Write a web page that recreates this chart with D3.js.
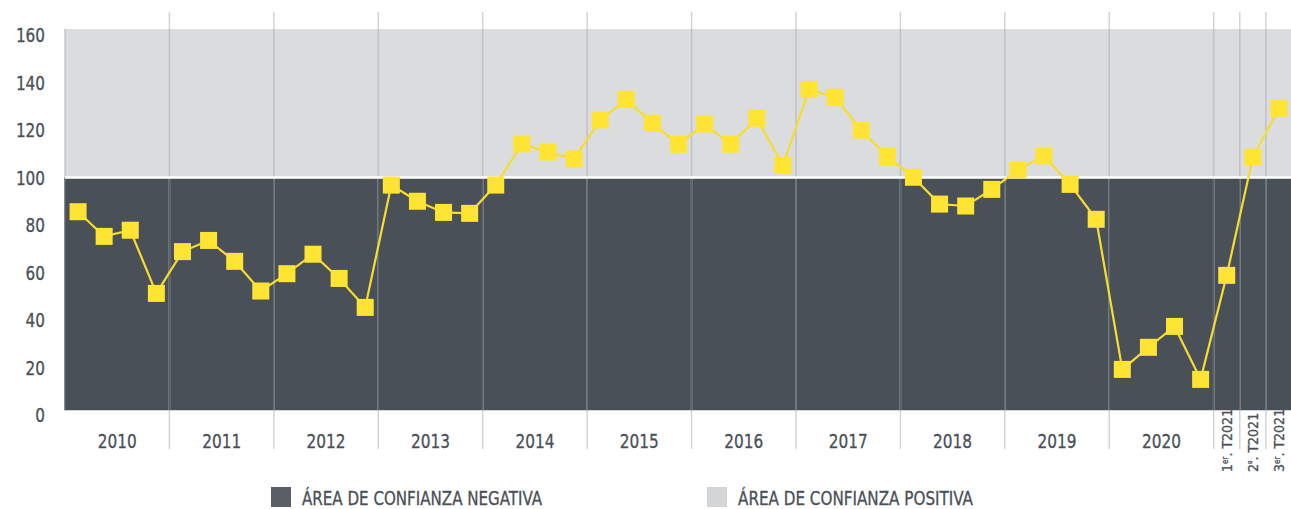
<!DOCTYPE html>
<html>
<head>
<meta charset="utf-8">
<script src="https://cdn.jsdelivr.net/npm/d3@7"></script>
<style>
  body { margin: 0; background: #fff; }
  text { font-family: "DejaVu Sans Condensed", "Liberation Sans Narrow", sans-serif; fill: #4a5058; stroke: #4a5058; stroke-width: 0.3px; }
</style>
</head>
<body>
<script>
var width = 1291;
var height = 509;

// years shown on the x axis, four quarters each (2021 only three)
const years = ["2010","2011","2012","2013","2014","2015","2016","2017","2018","2019","2020"];
const quarters2021 = ["1er. T2021", "2º. T2021", "3er. T2021"];

// confidence index per quarter
const values = [
  85.6, 75.2, 77.8, 51.2,     // 2010
  68.8, 73.5, 64.7, 52.2,     // 2011
  59.5, 67.7, 57.5, 45.3,     // 2012
  96.8, 90.0, 85.3, 84.9,     // 2013
  96.8, 114.1, 110.7, 107.8,  // 2014
  124.2, 132.9, 122.8, 114.0, // 2015
  122.5, 114.0, 124.9, 105.1, // 2016
  137.1, 133.8, 119.9, 108.8, // 2017
  100.1, 88.8, 88.0, 95.0,    // 2018
  103.2, 109.1, 97.1, 82.4,   // 2019
  19.2, 28.5, 37.3, 15.0,     // 2020
  58.8, 108.5, 129.1          // 2021
];

const yTicks = [0, 20, 40, 60, 80, 100, 120, 140, 160];
const threshold = 100;
const legendLabels = ["ÁREA DE CONFIANZA NEGATIVA", "ÁREA DE CONFIANZA POSITIVA"];

// quarter ids
var qids = [];
years.forEach(function(y) { for (let q = 1; q <= 4; q++) qids.push(y + "-Q" + q); });
quarters2021.forEach(function(q, i) { qids.push("2021-Q" + (i+1)); });

var data = values.map(function(v, i) { return {id: qids[i], value: v}; });

var x = d3.scaleBand().domain(qids).range([65, 1292]);
var y = d3.scaleLinear().domain([0, 160]).range([415, 35]);

var svg = d3.select("body").append("svg")
    .attr("width", width)
    .attr("height", height);

var plotTop = y(162.5), plotBottom = y(2);

// background areas
svg.append("rect")
    .attr("x", x.range()[0]).attr("y", plotTop)
    .attr("width", x.range()[1] - x.range()[0]).attr("height", y(threshold) - plotTop)
    .attr("fill", "#dbdcde");
svg.append("rect")
    .attr("x", x.range()[0]).attr("y", y(threshold))
    .attr("width", x.range()[1] - x.range()[0]).attr("height", plotBottom - y(threshold))
    .attr("fill", "#4a5058");

// separators: start of each year + 2021 quarters
var seps = years.slice(1).map(function(yr) { return x(yr + "-Q1"); });
seps = seps.concat(["2021-Q1", "2021-Q2", "2021-Q3"].map(function(q) { return x(q); }));

var sepG = svg.append("g").attr("class", "seps");
seps.forEach(function(sx) {
    sepG.append("line").attr("x1", sx).attr("x2", sx).attr("y1", 12).attr("y2", 449)
        .attr("stroke", "#d3d4d7").attr("stroke-width", 1.5);
    sepG.append("line").attr("x1", sx).attr("x2", sx).attr("y1", plotTop).attr("y2", y(threshold))
        .attr("stroke", "#c2c3c8").attr("stroke-width", 1.5);
    sepG.append("line").attr("x1", sx).attr("x2", sx).attr("y1", y(threshold)).attr("y2", plotBottom)
        .attr("stroke", "#5c626b").attr("stroke-width", 1.5);
});
// left edge
sepG.append("line").attr("x1", 65).attr("x2", 65).attr("y1", plotTop).attr("y2", y(threshold))
    .attr("stroke", "#c6c7cb").attr("stroke-width", 1.5);
sepG.append("line").attr("x1", 65).attr("x2", 65).attr("y1", y(threshold)).attr("y2", plotBottom)
    .attr("stroke", "#5c626b").attr("stroke-width", 1.5);

// threshold line
svg.append("line")
    .attr("x1", x.range()[0]).attr("x2", x.range()[1])
    .attr("y1", y(threshold)).attr("y2", y(threshold))
    .attr("stroke", "#fff").attr("stroke-width", 2.5);

// y labels
svg.append("g").selectAll("text")
    .data(yTicks).enter().append("text")
    .attr("x", 45).attr("y", function(d) { return y(d); })
    .attr("dy", "0.37em")
    .attr("text-anchor", "end")
    .attr("textLength", function(d) { return String(d).length * 9.7; })
    .attr("lengthAdjust", "spacingAndGlyphs")
    .style("font-size", "20px")
    .text(function(d) { return d; });

// year labels
svg.append("g").selectAll("text")
    .data(years).enter().append("text")
    .attr("x", function(d) { return x(d + "-Q1") + x.step() * 2; })
    .attr("y", 448)
    .attr("text-anchor", "middle")
    .attr("textLength", 39)
    .attr("lengthAdjust", "spacingAndGlyphs")
    .style("font-size", "20px")
    .text(function(d) { return d; });

// 2021 quarter labels (rotated)
var supers = [["1", "er", ". T2021"], ["2", "º", ". T2021"], ["3", "er", ". T2021"]];
quarters2021.forEach(function(q, i) {
    var cx = x("2021-Q" + (i+1)) + x.bandwidth() / 2;
    var t = svg.append("text")
        .attr("transform", "translate(" + (cx + 5) + ",472) rotate(-90)")
        .style("font-size", "14px");
    t.append("tspan").text(supers[i][0]);
    t.append("tspan").attr("dy", -4).style("font-size", "8px").text(supers[i][1]);
    t.append("tspan").attr("dy", 4).text(supers[i][2]);
});

// line + markers
var line = d3.line()
    .x(function(d) { return x(d.id) + x.bandwidth() / 2; })
    .y(function(d) { return y(d.value); });

svg.append("path")
    .datum(data)
    .attr("d", line)
    .attr("fill", "none")
    .attr("stroke", "#f8dc2e")
    .attr("stroke-width", 2.2);

var sz = 17;
svg.append("g").selectAll("rect")
    .data(data).enter().append("rect")
    .attr("x", function(d) { return x(d.id) + x.bandwidth() / 2 - sz / 2; })
    .attr("y", function(d) { return y(d.value) - sz / 2; })
    .attr("width", sz).attr("height", sz)
    .attr("fill", "#ffe433");

// legend
var legColors = ["#5a5f67", "#d4d5d7"];
var legX = [271, 707];
var legW = [240, 235];
legendLabels.forEach(function(l, i) {
    svg.append("rect").attr("x", legX[i]).attr("y", 487).attr("width", 20).attr("height", 20)
        .attr("fill", legColors[i]);
    svg.append("text").attr("x", legX[i] + 31).attr("y", 505)
        .attr("textLength", legW[i])
        .attr("lengthAdjust", "spacingAndGlyphs")
        .style("font-size", "19px")
        .text(l);
});
</script>
</body>
</html>
